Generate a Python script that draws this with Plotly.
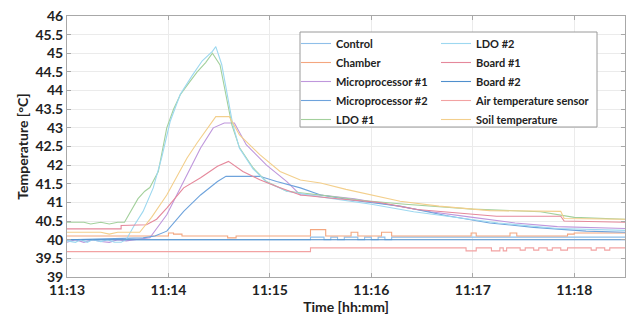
import pandas as pd
import plotly.graph_objects as go

BASE = pd.Timestamp("2020-01-01 11:13:00")

# ---- data (seconds after 11:13:00, temperature in °C) ----
control_t = [0, 144, 152, 156, 160, 164, 172, 176, 180, 184, 188, 192, 200, 330]
control_v = [40.0, 40.07, 40.0, 40.07, 40.0, 40.07, 40.0, 40.07, 40.0, 40.07, 40.0, 40.07, 40.07, 40.07]

chamber_t = [0, 60, 63, 68, 95, 100, 144, 153, 168, 172, 186, 192, 239, 242, 262, 266, 296, 300, 330]
chamber_v = [40.1, 40.18, 40.15, 40.1, 40.05, 40.1, 40.27, 40.1, 40.2, 40.1, 40.2, 40.1, 40.18, 40.1, 40.18, 40.1, 40.15, 40.18, 40.18]

mp1_t = [0, 5, 10, 15, 20, 25, 30, 35, 40, 49, 59, 69, 79, 86.5, 93, 99, 106, 118, 130, 138, 150, 170, 190, 215, 240, 265, 290, 330]
mp1_v = [39.93, 40.0, 39.93, 40.0, 39.95, 39.93, 40.0, 39.97, 40.0, 40.05, 40.67, 41.56, 42.46, 43.0, 43.13, 43.13, 42.55, 42.0, 41.56, 41.2, 41.2, 41.1, 40.95, 40.75, 40.6, 40.45, 40.35, 40.3]

mp2_t = [0, 45, 52, 59, 69, 79, 89, 94, 114, 124, 138, 150, 170, 197, 224, 250, 276, 307, 330]
mp2_v = [40.0, 40.05, 40.1, 40.23, 40.76, 41.2, 41.56, 41.7, 41.7, 41.56, 41.39, 41.2, 41.05, 40.9, 40.65, 40.45, 40.33, 40.23, 40.2]

ldo1_t = [0, 10, 14, 20, 25, 30, 34, 38, 42, 46, 49, 54, 59, 63, 67, 72, 77, 82, 86, 90.5, 94.5, 97.5, 102, 110, 118, 130, 150, 175, 200, 240, 280, 300, 330]
ldo1_v = [40.47, 40.47, 40.42, 40.47, 40.42, 40.47, 40.47, 40.8, 41.1, 41.3, 41.4, 41.83, 43.0, 43.5, 43.89, 44.2, 44.5, 44.75, 45.0, 44.69, 43.8, 43.08, 42.47, 41.93, 41.56, 41.3, 41.2, 41.05, 40.95, 40.82, 40.75, 40.6, 40.55]

ldo2_t = [0, 5, 8, 12, 15, 20, 24, 28, 32, 35, 40, 45, 51, 56, 61, 67, 74, 80, 86, 88, 91.5, 95, 98, 102, 110, 118, 130, 150, 180, 205, 230, 255, 290, 330]
ldo2_v = [39.97, 39.93, 40.0, 39.93, 40.0, 39.95, 40.0, 39.93, 39.93, 40.0, 40.4, 40.76, 41.39, 42.2, 43.17, 43.9, 44.4, 44.8, 45.05, 45.18, 44.7, 43.8, 43.1, 42.45, 41.9, 41.55, 41.3, 41.15, 40.95, 40.75, 40.6, 40.45, 40.3, 40.25]

board1_t = [0, 32, 32, 47, 53, 59, 69, 79, 89, 95.5, 104, 114, 124, 138, 160, 185, 207, 230, 254, 292, 294, 330]
board1_v = [40.29, 40.29, 40.38, 40.4, 40.55, 40.85, 41.39, 41.66, 41.97, 42.1, 41.83, 41.61, 41.43, 41.2, 41.1, 41.0, 40.81, 40.72, 40.63, 40.63, 40.5, 40.47]

board2_t = [0, 330]
board2_v = [40.0, 40.0]

air_t = [0, 144, 236, 242, 251, 256, 258, 260, 268, 271, 276, 279, 284, 287, 292, 296, 310, 313, 318, 321, 330]
air_v = [39.68, 39.78, 39.7, 39.78, 39.7, 39.78, 39.7, 39.78, 39.72, 39.78, 39.72, 39.78, 39.72, 39.78, 39.72, 39.78, 39.72, 39.78, 39.72, 39.78, 39.78]

soil_t = [0, 20, 25, 30, 43, 50, 59, 65, 71, 77, 83, 88, 96, 102, 114, 126, 138, 150, 165, 180, 197, 220, 250, 292, 294, 330]
soil_v = [40.2, 40.2, 40.15, 40.2, 40.2, 40.6, 41.2, 41.7, 42.19, 42.6, 43.0, 43.3, 43.3, 42.81, 42.28, 41.83, 41.6, 41.52, 41.35, 41.2, 41.03, 40.9, 40.78, 40.76, 40.57, 40.55]

y_ticks = [39, 39.5, 40, 40.5, 41, 41.5, 42, 42.5, 43, 43.5, 44, 44.5, 45, 45.5, 46]
y_ticklabels = ["39", "39.5", "40", "40.5", "41", "41.5", "42", "42.5", "43", "43.5", "44", "44.5", "45", "45.5", "46"]

series = [
    ("Control", control_t, control_v, "#8fbfe9", "hv", "legend"),
    ("Chamber", chamber_t, chamber_v, "#f4a67f", "hv", "legend"),
    ("Microprocessor #1", mp1_t, mp1_v, "#bf97dc", "linear", "legend"),
    ("Microprocessor #2", mp2_t, mp2_v, "#6ea3dc", "linear", "legend"),
    ("LDO #1", ldo1_t, ldo1_v, "#a3d09c", "linear", "legend"),
    ("LDO #2", ldo2_t, ldo2_v, "#9dd8f0", "linear", "legend2"),
    ("Board #1", board1_t, board1_v, "#e5889b", "linear", "legend2"),
    ("Board #2", board2_t, board2_v, "#4f8fcd", "hv", "legend2"),
    ("Air temperature sensor", air_t, air_v, "#f2a2a2", "hv", "legend2"),
    ("Soil temperature", soil_t, soil_v, "#f3cf8c", "linear", "legend2"),
]

fig = go.Figure()
for name, t, v, color, shape, lg in series:
    x = [BASE + pd.Timedelta(seconds=s) for s in t]
    fig.add_trace(go.Scatter(x=x, y=v, mode="lines", name=name,
                             line=dict(color=color, width=1.1, shape=shape),
                             legend=lg))

W, H = 627, 320
ml, mr, mt, mb = 67, 2, 16, 43
pw, ph = W - ml - mr, H - mt - mb

def px(xp):
    return (xp - ml) / pw

def py(yp):
    return 1 - (yp - mt) / ph

font_b = dict(family="Lato", size=14, color="#222222", weight="bold")
leg_font = dict(family="Lato", size=11, color="#222222", weight="bold")

fig.update_layout(
    width=W, height=H,
    margin=dict(l=ml, r=mr, t=mt, b=mb),
    plot_bgcolor="white", paper_bgcolor="white",
    font=font_b,
    showlegend=True,
    legend=dict(x=px(296), y=py(29), xanchor="left", yanchor="top",
                bgcolor="rgba(0,0,0,0)", borderwidth=0, font=leg_font,
                tracegroupgap=0),
    legend2=dict(x=px(436), y=py(29), xanchor="left", yanchor="top",
                 bgcolor="rgba(0,0,0,0)", borderwidth=0, font=leg_font,
                 tracegroupgap=0),
    xaxis=dict(
        range=[BASE, BASE + pd.Timedelta(seconds=330)],
        tickformat="%H:%M", dtick=60000, tick0=BASE,
        showgrid=True, gridcolor="#ebebeb", gridwidth=1,
        showline=True, linecolor="#a8a8a8", linewidth=1, mirror="ticks",
        ticks="inside", ticklen=4, tickcolor="#a8a8a8",
        tickfont=font_b, zeroline=False, automargin=False,
        title=dict(text="Time [hh:mm]", font=font_b, standoff=2),
    ),
    yaxis=dict(
        range=[39, 46], tickvals=y_ticks, ticktext=y_ticklabels,
        showgrid=True, gridcolor="#ebebeb", gridwidth=1,
        showline=True, linecolor="#a8a8a8", linewidth=1, mirror="ticks",
        ticks="inside", ticklen=4, tickcolor="#a8a8a8",
        tickfont=font_b, zeroline=False, automargin=False,
        title=dict(text="Temperature [°C]", font=font_b, standoff=3),
    ),
    shapes=[dict(type="rect", xref="paper", yref="paper",
                 x0=px(300), x1=px(597), y0=py(127), y1=py(32),
                 line=dict(color="#9a9a9a", width=1), fillcolor="white",
                 layer="above")],
)

fig.write_html("out.html",
               config={"displayModeBar": False},
               post_script="document.body.style.margin='0';document.body.style.padding='0';")
